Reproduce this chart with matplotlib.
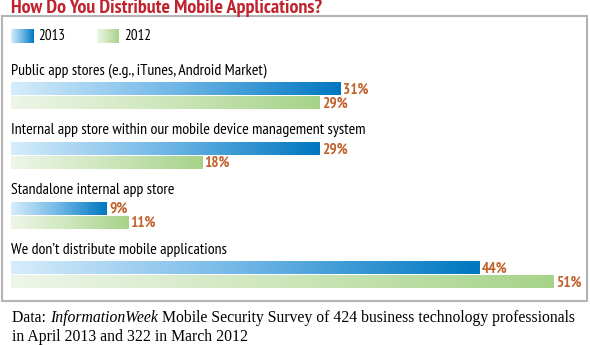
import numpy as np
import matplotlib.pyplot as plt
from matplotlib.patches import Rectangle
from matplotlib.colors import LinearSegmentedColormap

# Data
categories = [
    "Public app stores (e.g., iTunes, Android Market)",
    "Internal app store within our mobile device management system",
    "Standalone internal app store",
    "We don\u2019t distribute mobile applications",
]
values_2013 = [31, 29, 9, 44]
values_2012 = [29, 18, 11, 51]
years = ["2013", "2012"]
title = "How Do You Distribute Mobile Applications?"
source = ["Data: ", "InformationWeek",
          " Mobile Security Survey of 424 business technology professionals",
          "in April 2013 and 322 in March 2012"]

W, H = 590, 345
narrow = ["PT Sans Narrow", "Fira Sans Condensed", "DejaVu Sans"]
serif = ["Liberation Serif", "DejaVu Serif"]

blue = LinearSegmentedColormap.from_list("b", ["#d6edfb", "#6fb6e6", "#0077c0"])
green = LinearSegmentedColormap.from_list("g", ["#eef6e8", "#cde6bb", "#a6d389"])
label_color = "#c3612b"
title_color = "#c1232d"

fig = plt.figure(figsize=(W / 100, H / 100), dpi=100)
renderer = fig.canvas.get_renderer()


def fx(px):
    return px / W


def fy(px):
    return 1 - px / H


def fit(t, target):
    # scale font so the text is `target` pixels wide
    w = t.get_window_extent(renderer).width
    t.set_fontsize(t.get_fontsize() * target / w)
    return t.get_fontsize()


# panel border
fig.patches.append(Rectangle((fx(2), fy(301)), fx(585), (301 - 16) / H,
                             transform=fig.transFigure, fill=False,
                             edgecolor="#b4b4b4", linewidth=1.5))

t = fig.text(fx(11), fy(8), title, color=title_color, fontsize=14,
             fontweight="bold", family=narrow, va="center", ha="left")
fit(t, 312)

# legend swatches
grad = np.linspace(0, 1, 256).reshape(1, -1)
for x0, cmap, yr in [(11, blue, years[0]), (97, green, years[1])]:
    lax = fig.add_axes([fx(x0), fy(43), fx(22), 14 / H])
    lax.imshow(grad, cmap=cmap, aspect="auto")
    lax.axis("off")
    t = fig.text(fx(x0 + 27), fy(36.5), yr, fontsize=12, family=narrow,
                 va="center", ha="left")
    fit(t, 27)

# main axes: x in percent, y in group units
px_per_pct = 10.64
pitch = 59.7
c0 = 89.0  # pixel centre of first 2013 bar
ax_left, ax_right = 11, 585
ax_top, ax_bot = 55, 298
ax = fig.add_axes([fx(ax_left), fy(ax_bot), fx(ax_right - ax_left),
                   (ax_bot - ax_top) / H])
xlim = (0, (ax_right - ax_left) / px_per_pct)
ylim = ((ax_bot - c0) / pitch, (ax_top - c0) / pitch)
ax.axis("off")

h = 12.6 / pitch
off = 14.0 / pitch
label_texts = []
for i, cat in enumerate(categories):
    label_texts.append(ax.text(0, i - 18.5 / pitch, cat, fontsize=12,
                               family=narrow, va="center", ha="left"))
    for v, yy, cmap in [(values_2013[i], i, blue),
                        (values_2012[i], i + off, green)]:
        ax.imshow(grad, cmap=cmap, aspect="auto", interpolation="bilinear",
                  extent=[0, v, yy + h / 2, yy - h / 2])
ax.set_xlim(*xlim)
ax.set_ylim(*ylim)

# common font size for the category labels
size = fit(label_texts[1], 353)
for t in label_texts:
    t.set_fontsize(size)

# value labels
val_texts = []
for i in range(len(categories)):
    for v, yy in [(values_2013[i], i), (values_2012[i], i + off)]:
        val_texts.append(ax.text(v + 0.2, yy + 0.5 / pitch, f"{v}%",
                                 color=label_color, fontsize=12,
                                 fontweight="bold", family=narrow,
                                 va="center", ha="left"))
vsize = fit(val_texts[0], 25.5)
for t in val_texts:
    t.set_fontsize(vsize)

# footer: first line in three pieces (italic magazine name)
fs = 11
pieces = []
x = 12
for txt, style in [(source[0], "normal"), (source[1], "italic"),
                   (source[2], "normal")]:
    t = fig.text(fx(x), fy(318), txt, fontsize=fs, family=serif,
                 style=style, va="center", ha="left")
    x += t.get_window_extent(renderer).width
    pieces.append(t)
scale = 564 / (x - 12)
x = 12
for t in pieces:
    t.set_fontsize(fs * scale)
    t.set_x(fx(x))
    x += t.get_window_extent(renderer).width
fig.text(fx(12), fy(337), source[3], fontsize=fs * scale, family=serif,
         va="center", ha="left")

fig.savefig("out.png", dpi=100)
